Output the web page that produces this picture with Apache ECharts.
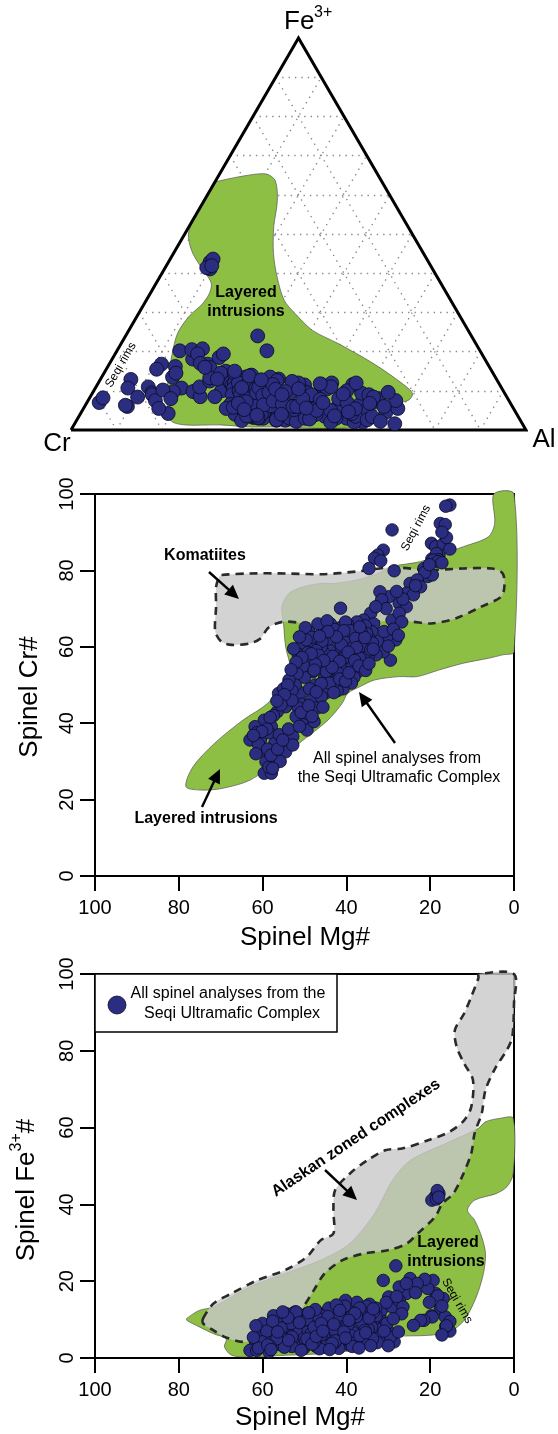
<!DOCTYPE html>
<html>
<head>
<meta charset="utf-8">
<script src="https://cdn.jsdelivr.net/npm/echarts@6/dist/echarts.min.js"></script>
<style>
html,body{margin:0;padding:0;background:#fff}
#chart{width:558px;height:1434px}
</style>
</head>
<body>
<div id="chart"></div>
<script>
const FONT = '"Liberation Sans", Arial, sans-serif';

// Spinel analyses: [Mg#, Cr#, Fe3+#]
const spinel = [
  // Seqi rims
  [15.3,97.1,7.0],[16.3,96.8,8.2],[17.6,92.3,12.9],[16.4,92.0,10.7],[19.7,87.1,11.0],
  [18.7,86.2,16.8],[16.9,86.9,15.5],[15.3,85.6,9.5],[16.1,88.6,8.4],[17.2,90.0,6.0],
  // Fe-rich group and low-Mg# grains
  [18.8,83.5,42.0],[17.9,84.0,42.8],[19.6,83.0,41.1],[18.3,83.3,43.6],[18.5,84.4,41.4],[18.0,82.8,41.9],
  [19.3,82.7,20.2],[18.2,82.3,16.2],[17.2,82.0,13.5],[20.6,78.4,18.1],[19.5,78.8,10.7],
  [21.5,80.5,9.8],[21.3,79.5,20.5],[20.2,81.5,14.5],
  // Mg# 22-36
  [29.1,90.6,6.3],[31.2,85.3,9.0],[32.5,84.0,7.5],[33.3,83.2,10.2],[34.6,80.5,8.0],[28.6,79.9,4.2],[31.8,82.5,5.5],
  [24.8,76.6,20.7],[23.1,77.5,19.4],[22.3,75.7,9.8],[25.7,74.0,16.8],[24.0,73.6,8.5],[27.4,71.4,18.5],
  [25.7,70.5,19.4],[29.9,73.1,15.9],[32.0,74.4,11.0],[31.6,72.3,12.5],[29.1,67.0,13.3],[27.4,68.8,15.0],
  [34.2,68.8,10.0],[35.9,67.0,12.0],[28.2,61.8,24.0],[30.3,62.7,9.0],[29.5,56.5,5.5],[31.2,58.7,20.2],
  [32.9,57.9,11.0],[26.5,72.5,13.3],[23.5,76.0,17.0],[30.5,70.0,14.5],[28.0,74.5,16.0],[33.0,70.5,13.0],[26.8,66.5,11.5],
  [32.6,61.5,4.0],[31.0,64.0,7.0],[30.0,60.2,3.2],[28.8,64.6,10.2],[27.6,63.0,6.8],
  // main cluster, Mg# 33-52
  [33.5,66.0,12.0],[34.0,64.0,8.0],[34.5,62.0,14.0],[35.0,60.5,6.0],[35.5,65.5,10.0],[36.0,58.0,9.0],
  [33.8,61.0,5.0],[35.2,63.5,13.5],[36.2,55.5,4.5],[34.8,57.5,7.5],
  [36.5,64.0,11.0],[37.0,61.0,7.0],[37.5,66.5,14.5],[38.0,59.0,5.0],[38.5,63.0,9.0],[39.0,56.0,12.0],
  [39.5,61.0,3.5],[37.2,53.5,8.0],[38.2,52.0,6.5],[39.8,66.0,10.5],[36.8,57.0,13.0],[38.8,50.5,4.0],[40.0,54.0,7.0],
  [40.5,62.0,9.5],[41.0,58.0,5.5],[41.5,65.0,12.0],[42.0,60.0,3.5],[42.5,56.0,8.5],[43.0,63.0,6.0],
  [43.5,52.0,10.0],[44.0,59.0,4.5],[40.8,49.0,7.0],[42.2,48.5,11.5],[43.8,66.0,9.0],[41.8,53.0,2.5],
  [44.2,55.0,13.0],[40.2,66.5,15.0],[41.4,70.1,8.5],
  [44.5,62.0,7.5],[45.0,58.0,3.0],[45.5,64.5,10.0],[46.0,60.0,5.0],[46.5,55.0,8.0],[47.0,62.5,12.0],
  [47.5,50.0,4.0],[45.2,52.0,9.5],[46.8,66.0,6.5],[47.8,57.0,11.0],[44.8,48.0,6.0],[46.2,47.0,3.5],[48.0,53.5,7.0],
  [48.5,60.0,5.5],[49.0,64.0,9.0],[49.5,56.0,11.5],[50.0,52.0,3.0],[50.5,61.0,7.0],[51.0,48.0,8.5],
  [51.5,58.0,4.5],[48.8,49.0,10.0],[50.2,55.0,2.5],[49.8,65.0,6.0],[51.8,53.0,5.0],[52.2,50.0,12.0],
  [42.8,64.5,4.0],[44.6,66.8,5.5],[45.8,61.5,11.0],[47.2,59.0,3.0],[48.2,62.5,8.0],[43.2,57.5,7.0],
  [44.8,53.5,5.0],[46.6,57.8,9.0],[49.2,58.5,4.0],[41.2,60.5,10.5],[39.2,64.2,6.0],[37.8,62.2,4.0],
  [36.4,60.2,9.5],[42.6,51.0,4.5],[40.4,57.2,13.5],
  [50.5,45.0,6.0],[48.5,46.0,8.5],[51.5,44.0,3.5],[47.0,44.0,10.5],[50.0,40.0,7.0],
  [34.2,59.2,3.2],[35.6,62.4,7.2],[36.8,65.2,5.8],[37.6,59.8,10.8],[38.6,54.8,3.0],[39.6,58.6,8.8],
  [40.6,64.2,6.8],[41.6,56.2,11.2],[42.4,62.6,13.8],[43.4,54.6,3.8],[44.4,64.0,10.8],[45.4,56.4,6.2],
  [46.4,62.8,2.4],[47.4,55.4,12.6],[48.4,58.2,6.4],[49.6,61.8,3.6],[50.6,57.2,9.6],[51.2,62.6,5.2],
  [52.0,56.0,7.4],[52.6,59.5,3.8],[38.0,56.4,11.6],[37.0,55.0,2.6],[35.4,53.8,6.6],[34.6,55.6,10.4],
  [33.6,59.4,12.8],[44.0,50.5,2.2],[43.0,48.0,8.8],[41.6,51.6,12.4],[40.2,51.0,5.2],[39.4,53.2,9.8],
  // Mg# 46-63 tail
  [53.7,51.3,6.0],[56.2,47.8,9.5],[54.5,44.3,11.6],[55.4,46.0,4.0],[57.9,39.1,8.1],[59.6,40.8,5.9],
  [61.8,39.1,3.0],[63.0,35.6,2.0],[60.5,35.6,6.5],[57.1,34.7,9.4],[54.5,32.5,7.0],[52.8,36.5,11.6],
  [52.8,34.3,5.0],[59.2,29.9,4.5],[57.1,30.8,8.0],[59.6,26.9,5.5],[57.9,26.9,7.5],[58.5,28.5,1.6],
  [61.4,37.5,2.0],[49.4,38.2,10.0],[47.7,40.4,8.0],[49.4,42.6,5.0],[52.0,41.7,12.0],[46.0,46.9,9.0],
  [46.0,50.4,6.0],[47.7,53.9,4.0],[53.0,48.5,3.0],[55.0,49.0,8.0],[56.5,43.0,10.5],[58.5,37.5,4.0],
  [60.0,33.0,9.0],[56.0,37.0,3.5],[55.8,30.0,6.0],
  [53.2,54.0,9.0],[53.0,46.0,5.5],[54.0,50.0,10.5],[54.8,47.5,2.8],[55.6,44.8,7.8],[56.6,45.8,5.0],
  [57.4,42.0,11.0],[58.2,41.5,3.0],[59.0,38.5,7.0],[60.2,37.8,4.2],[61.0,34.5,2.6],[62.2,36.8,5.4],
  [61.6,32.0,8.4],[58.8,33.2,3.4],[57.6,28.2,9.6],[58.0,31.6,2.2],[56.4,33.2,6.8],[55.2,35.6,12.0],
  [53.8,38.5,4.6],[51.2,39.2,9.2],[50.8,42.8,2.0],[49.0,44.6,11.8],[48.2,41.8,3.6],[47.2,48.2,5.6],
  [45.6,44.2,7.0]
];

// Layered-intrusion field in the ternary: [Fe3+ %, Al %], Cr is the remainder
const layeredTernary = [
  [63.0,0],[63.6,1],[65.0,6.5],[65.3,10.3],[63.6,13.1],[58.5,16.1],[51.7,18.7],[45.0,22.0],
  [39.0,25.8],[33.1,30.3],[29.7,34.4],[25.4,40.4],[22.1,47.6],[17.0,57.9],[11.9,66.8],[9.3,70.4],
  [7.6,70.4],[6.4,67.1],[5.1,64.7],[2.5,64.4],[0.8,62.1],[0.4,54.5],[0.8,46.5],[0.8,38.6],
  [1.3,32.1],[1.3,24.3],[2.5,20.6],[7.6,17.3],[13.6,14.6],[19.5,12.5],[24.6,11.1],[28.8,11.4],
  [32.2,12.8],[34.8,13.0],[37.3,12.2],[39.9,9.7],[42.4,6.9],[45.8,3.6],[50.0,0.8],[54.3,0],[58.5,0]
];

// Fields in Mg# vs Cr# space: [Mg#, Cr#]
const layeredCrField = [
  [78.3,23.4],[74.9,22.5],[69.8,22.9],[63.0,25.1],[56.2,30.4],[50.3,35.6],[44.4,40.8],[41.0,45.2],
  [39.7,47.8],[36.7,49.6],[33.3,51.3],[27.4,52.2],[23.1,52.2],[18.0,53.9],[12.1,55.7],[6.1,57.0],
  [2.7,57.9],[0,58.7],[0,100],[4.8,100],[4.6,92.3],[6.1,88.8],[12.1,86.2],[18.0,84.0],[22.3,82.3],
  [29.1,81.0],[32.5,79.2],[37.6,77.5],[42.7,76.6],[46.0,76.6],[50.3,75.7],[53.7,74.0],[55.4,70.5],
  [55.0,66.1],[54.5,60.0],[53.3,53.9],[54.5,51.3],[58.8,45.2],[64.7,40.8],[71.5,34.7],[76.6,28.6]
];
const komatiiteField = [
  [69.8,78.8],[63.0,79.2],[54.5,79.2],[46.0,79.0],[37.6,79.7],[29.1,80.8],[20.6,80.1],[12.1,80.5],
  [5.3,80.5],[2.7,79.2],[2.3,75.7],[3.1,73.1],[7.8,70.5],[13.8,67.5],[19.7,66.1],[24.8,66.6],
  [33.3,66.6],[41.8,65.7],[49.4,66.1],[54.5,66.6],[56.7,66.1],[58.8,64.8],[60.5,62.2],[63.0,60.9],
  [67.3,60.5],[69.8,61.3],[71.3,64.0],[71.1,70.5],[71.1,75.7],[70.3,78.4]
];

// Fields in Mg# vs Fe3+# space: [Mg#, Fe3+#]
const layeredFeField = [
  [78.1,10.3],[75.1,12.4],[71.7,13.3],[63.1,18.5],[54.6,22.0],[46.1,25.5],[39.2,29.8],[33.3,37.6],
  [29.0,46.3],[24.7,51.5],[16.2,55.9],[8.5,59.8],[6.8,61.5],[3.4,62.4],[0.2,62.4],[0.2,48.0],
  [1.7,44.6],[4.3,42.8],[9.4,41.1],[11.1,38.5],[9.4,35.9],[7.7,31.5],[6.8,27.2],[7.3,22.0],
  [9.0,15.9],[11.9,9.8],[15.4,6.8],[20.5,5.9],[29.0,5.5],[33.3,3.7],[38.4,2.0],[46.1,1.1],
  [54.6,0.7],[63.1,0.3],[67.4,0.7],[69.1,2.9],[68.7,5.0],[71.7,6.3],[75.1,8.1],[78.1,9.8]
];
const alaskanField = [
  [74.2,10.3],[71.7,14.2],[67.4,16.8],[61.4,20.2],[54.6,22.9],[49.5,26.3],[46.1,30.7],[43.1,32.4],
  [43.1,38.5],[42.7,43.7],[39.2,48.0],[35.0,51.5],[30.7,54.1],[26.5,54.6],[20.5,56.7],[15.4,58.9],
  [11.9,61.9],[10.2,65.4],[9.8,72.4],[11.9,76.7],[13.7,81.1],[14.1,85.4],[11.9,89.7],[10.2,94.1],
  [8.5,98.9],[8.4,100],[0,100],[0,92.4],[0.4,83.7],[1.7,80.2],[4.3,75.8],[6.8,69.8],[7.7,63.7],
  [9.4,58.5],[10.2,53.3],[12.4,47.2],[14.5,42.8],[17.1,40.2],[18.8,36.8],[23.0,32.4],[25.6,29.8],
  [29.9,28.1],[35.8,27.2],[40.9,25.5],[45.2,22.0],[47.8,17.6],[50.3,13.3],[52.9,9.8],[56.3,7.2],
  [61.4,4.6],[64.8,4.2],[69.1,5.5],[71.7,7.2],[74.2,9.0]
];

const ternaryLevels = [10, 20, 30, 40, 50, 60, 70, 80, 90];
const axisRange = { min: 0, max: 100, step: 20 };

const NAVY = '#2b2d80';
const GREEN = '#8ebf45';

// Cr-Fe3+-Al composition -> position inside the triangle (percent of width / height)
function toTernary(cr, fe, al) {
  const s = cr + fe + al;
  return [(al + fe / 2) / s * 100, fe / s * 100];
}
const ternaryPts = spinel.map(([mg, crn, fen]) => {
  const rest = 100 - fen;
  return toTernary(rest * crn / 100, fen, rest * (100 - crn) / 100);
});
const crPts = spinel.map(d => [d[0], d[1]]);
const fePts = spinel.map(d => [d[0], d[2]]);

const gridSegs = [];
ternaryLevels.forEach(k => {
  gridSegs.push({ coords: [toTernary(100 - k, k, 0), toTernary(0, k, 100 - k)] });
  gridSegs.push({ coords: [toTernary(100 - k, 0, k), toTernary(0, 100 - k, k)] });
  gridSegs.push({ coords: [toTernary(k, 100 - k, 0), toTernary(k, 0, 100 - k)] });
});
const triangle = [toTernary(100, 0, 0), toTernary(0, 100, 0), toTernary(0, 0, 100), toTernary(100, 0, 0)];

function field(idx, pts, style, z) {
  return {
    type: 'custom', coordinateSystem: 'cartesian2d', xAxisIndex: idx, yAxisIndex: idx,
    data: [[0, 0]], silent: true, z: z, clip: false,
    renderItem: (params, api) => ({
      type: 'polygon',
      shape: { points: pts.map(p => api.coord(p)), smooth: 0.3 },
      style: style
    })
  };
}

function dots(idx, data, size) {
  return {
    type: 'scatter', xAxisIndex: idx, yAxisIndex: idx, data: data, symbolSize: size, z: 10,
    clip: false, silent: true,
    itemStyle: { color: NAVY, borderColor: '#0a0a22', borderWidth: 0.8, opacity: 1 }
  };
}

function valueAxis(idx, isX) {
  return {
    gridIndex: idx, type: 'value', min: axisRange.min, max: axisRange.max, interval: axisRange.step,
    inverse: isX,
    axisLine: { show: true, onZero: false, lineStyle: { color: '#000', width: 2 } },
    axisTick: { show: true, inside: false, length: 15, lineStyle: { color: '#000', width: 2 } },
    axisLabel: { show: true, color: '#000', fontSize: 20, fontFamily: FONT, margin: isX ? 22 : 18, rotate: isX ? 0 : 90 },
    splitLine: { show: false }
  };
}

const hidden = { gridIndex: 0, type: 'value', min: 0, max: 100, show: false };

function txt(x, y, text, size, bold, rot, align) {
  return {
    type: 'text', x: x, y: y, rotation: (rot || 0) * Math.PI / 180, z: 100,
    style: {
      text: text, x: 0, y: 0, fill: '#000',
      font: (bold ? 'bold ' : '') + size + 'px ' + FONT,
      textAlign: align || 'center', textVerticalAlign: 'middle'
    }
  };
}

function arrow(x1, y1, x2, y2) {
  const a = Math.atan2(y2 - y1, x2 - x1);
  const hl = 14, hw = 6.5;
  const bx = x2 - Math.cos(a) * hl, by = y2 - Math.sin(a) * hl;
  const px = -Math.sin(a) * hw, py = Math.cos(a) * hw;
  return [
    { type: 'line', z: 100, shape: { x1: x1, y1: y1, x2: bx + Math.cos(a) * 2, y2: by + Math.sin(a) * 2 },
      style: { stroke: '#000', lineWidth: 2.4 } },
    { type: 'polygon', z: 100, shape: { points: [[x2, y2], [bx + px, by + py], [bx - px, by - py]] },
      style: { fill: '#000' } }
  ];
}

// y-axis title with a superscript, drawn reading bottom-to-top
function feTitle(cx, cy) {
  const ctx = document.createElement('canvas').getContext('2d');
  ctx.font = '26px ' + FONT; const w1 = ctx.measureText('Spinel Fe').width; const w3 = ctx.measureText('#').width;
  ctx.font = '16px ' + FONT; const w2 = ctx.measureText('3+').width;
  const x0 = -(w1 + w2 + w3) / 2;
  const piece = (x, y, t, s) => ({ type: 'text', style: { text: t, x: x, y: y, font: s + 'px ' + FONT, fill: '#000', textAlign: 'left', textVerticalAlign: 'middle' } });
  return {
    type: 'group', x: cx, y: cy, rotation: Math.PI / 2, z: 100,
    children: [piece(x0, 0, 'Spinel Fe', 26), piece(x0 + w1, -10, '3+', 16), piece(x0 + w1 + w2, 0, '#', 26)]
  };
}

const graphics = [
  // ternary apices
  txt(284, 22, 'Fe', 26, false, 0, 'left'),
  txt(314, 13, '3+', 16, false, 0, 'left'),
  txt(57, 444, 'Cr', 26),
  txt(544, 440, 'Al', 26),
  txt(246, 293, 'Layered', 16, true),
  txt(246, 312, 'intrusions', 16, true),
  txt(121, 365, 'Seqi rims', 12, false, 60),
  // Cr# panel
  txt(205, 556, 'Komatiites', 16, true),
  ...arrow(209, 572, 239, 599),
  txt(397, 759, 'All spinel analyses from', 16),
  txt(399, 778, 'the Seqi Ultramafic Complex', 16),
  ...arrow(395, 743, 359, 692),
  txt(206, 819, 'Layered intrusions', 16, true),
  ...arrow(202, 807, 220, 769),
  txt(416, 528, 'Seqi rims', 12, false, 62),
  txt(30, 697, 'Spinel Cr#', 26, false, 90),
  txt(305, 938, 'Spinel Mg#', 26),
  // Fe3+# panel
  { type: 'rect', z: 90, shape: { x: 95, y: 974, width: 242, height: 58 }, style: { fill: '#fff', stroke: '#000', lineWidth: 1.5 } },
  { type: 'circle', z: 100, shape: { cx: 117, cy: 1005, r: 9 }, style: { fill: NAVY, stroke: '#0a0a22', lineWidth: 0.8 } },
  txt(228, 994, 'All spinel analyses from the', 16),
  txt(232, 1014, 'Seqi Ultramafic Complex', 16),
  txt(356, 1138, 'Alaskan zoned complexes', 16, true, 33.8),
  ...arrow(325, 1170, 357, 1200),
  txt(448, 1243, 'Layered', 16, true),
  txt(446, 1262, 'intrusions', 16, true),
  txt(457, 1301, 'Seqi rims', 12, false, -60),
  feTitle(27, 1190),
  txt(300, 1418, 'Spinel Mg#', 26)
];

const chart = echarts.init(document.getElementById('chart'), null, { renderer: 'canvas' });
chart.setOption({
  animation: false,
  backgroundColor: '#fff',
  grid: [
    { left: 71, top: 38, width: 455, height: 392, show: false },
    { left: 95, top: 494, width: 419, height: 382, show: true, borderColor: '#000', borderWidth: 2 },
    { left: 95, top: 974, width: 419, height: 384, show: true, borderColor: '#000', borderWidth: 2 }
  ],
  xAxis: [hidden, valueAxis(1, true), valueAxis(2, true)],
  yAxis: [hidden, valueAxis(1, false), valueAxis(2, false)],
  series: [
    // ternary
    { type: 'lines', coordinateSystem: 'cartesian2d', xAxisIndex: 0, yAxisIndex: 0, data: gridSegs, z: 1, silent: true,
      lineStyle: { color: '#8a8a8a', width: 1.4, type: [1.4, 5], opacity: 1 } },
    field(0, layeredTernary.map(([fe, al]) => toTernary(100 - fe - al, fe, al)),
      { fill: GREEN, stroke: '#555', lineWidth: 0.7 }, 2),
    { type: 'line', xAxisIndex: 0, yAxisIndex: 0, data: triangle, symbol: 'none', z: 3, clip: false, silent: true,
      lineStyle: { color: '#000', width: 3, join: 'miter' } },
    dots(0, ternaryPts, 14),
    // Cr# panel
    field(1, layeredCrField, { fill: GREEN, stroke: '#555', lineWidth: 0.7 }, 2),
    field(1, komatiiteField, { fill: 'rgba(200,200,200,0.8)', stroke: '#2a2a2a', lineWidth: 2.6, lineDash: [8, 6] }, 3),
    dots(1, crPts, 12.5),
    // Fe3+# panel
    field(2, layeredFeField, { fill: GREEN, stroke: '#555', lineWidth: 0.7 }, 2),
    field(2, alaskanField, { fill: 'rgba(200,200,200,0.8)', stroke: '#2a2a2a', lineWidth: 2.6, lineDash: [8, 6] }, 3),
    dots(2, fePts, 12.5)
  ],
  graphic: { elements: graphics }
});
</script>
</body>
</html>
